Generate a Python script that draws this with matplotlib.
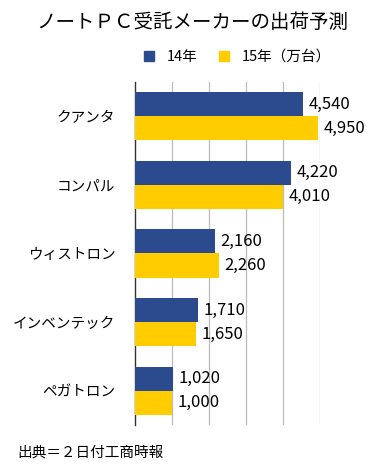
import matplotlib
matplotlib.use('Agg')
import matplotlib.pyplot as plt
from matplotlib.patches import Patch

plt.rcParams['font.family'] = ['Noto Sans CJK JP', 'DejaVu Sans']

companies = ['クアンタ', 'コンパル', 'ウィストロン', 'インベンテック', 'ペガトロン']
y14 = [4540, 4220, 2160, 1710, 1020]
y15 = [4950, 4010, 2260, 1650, 1000]
series_names = ['14年', '15年（万台）']
title = 'ノートＰＣ受託メーカーの出荷予測'
source = '出典＝２日付工商時報'

blue = '#2C4A8E'
yellow = '#FFCC00'

fig = plt.figure(figsize=(3.77, 4.65), dpi=100)
ax = fig.add_axes([135 / 377, 40 / 465, 185 / 377, 343 / 465])

pos = list(range(len(companies)))
h = 0.35
ax.barh([p - h / 2 for p in pos], y14, height=h, color=blue, zorder=3)
ax.barh([p + h / 2 for p in pos], y15, height=h, color=yellow, zorder=3)

for p, a, b in zip(pos, y14, y15):
    ax.text(a + 150, p - h / 2, f'{a:,}', va='center', ha='left', fontsize=12, clip_on=False)
    ax.text(b + 150, p + h / 2, f'{b:,}', va='center', ha='left', fontsize=12, clip_on=False)

ax.set_xlim(0, 5000)
ax.set_ylim(len(companies) - 0.5, -0.5)
ax.set_xticks([1000, 2000, 3000, 4000, 5000])
ax.set_xticklabels([])
ax.tick_params(axis='x', length=0)
ax.set_yticks(pos)
ax.set_yticklabels(companies, fontsize=10.5)
ax.tick_params(axis='y', length=0, pad=14)
ax.grid(axis='x', color='#BBBBBB', linewidth=0.9, zorder=0)
for s in ['top', 'right', 'bottom']:
    ax.spines[s].set_visible(False)
ax.spines['left'].set_color('#333333')
ax.spines['left'].set_linewidth(1.0)

fig.text(0.51, 1 - 22 / 465, title, ha='center', va='center', fontsize=14)
handles = [Patch(color=blue), Patch(color=yellow)]
fig.legend(handles, series_names, loc='center', bbox_to_anchor=(0.63, 1 - 57 / 465),
           ncol=2, frameon=False, fontsize=10.5, handlelength=0.7, handleheight=0.7,
           columnspacing=1.4, handletextpad=0.9)
fig.text(17 / 377, 1 - 453 / 465, source, ha='left', va='center', fontsize=10.5)

fig.savefig('out.png', dpi=100)
